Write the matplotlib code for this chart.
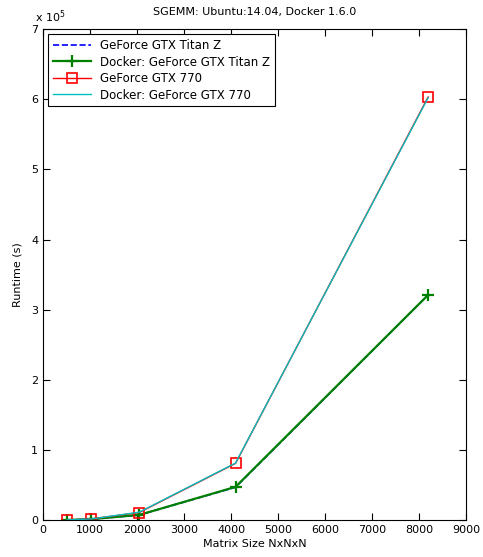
import matplotlib.pyplot as plt
import matplotlib.ticker as mticker

sizes = [512, 1024, 2048, 4096, 8192]
titan_z = [300, 1500, 7500, 47000, 321000]
docker_titan_z = [300, 1500, 7600, 47500, 321000]
gtx_770 = [500, 1800, 11000, 81000, 603000]
docker_gtx_770 = [500, 1800, 11500, 81500, 602000]

fig = plt.figure(figsize=(4.83, 5.57), dpi=100)
ax = fig.add_axes([0.089, 0.066, 0.876, 0.882])

ax.plot(sizes, titan_z, color="blue", linestyle="--", linewidth=1.2, label="GeForce GTX Titan Z")
ax.plot(sizes, docker_titan_z, color="green", linestyle="-", linewidth=1.6, marker="+",
        markersize=8, markeredgewidth=1.6, label="Docker: GeForce GTX Titan Z")
ax.plot(sizes, gtx_770, color="red", linestyle="-", linewidth=1.0, marker="s",
        markersize=7, markerfacecolor="none", markeredgewidth=1.2, label="GeForce GTX 770")
ax.plot(sizes, docker_gtx_770, color="#00bfbf", linestyle="-", linewidth=1.0, label="Docker: GeForce GTX 770")

ax.set_xlim(0, 9000)
ax.set_ylim(0, 7e5)
ax.set_xticks(range(0, 9001, 1000))
ax.set_yticks([i * 1e5 for i in range(8)])
ax.yaxis.set_major_formatter(mticker.FuncFormatter(lambda v, p: f"{v / 1e5:g}"))
ax.tick_params(direction="in", top=True, right=True, labelsize=8, length=5)
ax.text(-0.02, 1.008, r"x 10$^5$", transform=ax.transAxes, fontsize=8, ha="left", va="bottom")

ax.set_xlabel("Matrix Size NxNxN", fontsize=8, labelpad=3)
ax.set_ylabel("Runtime (s)", fontsize=8, labelpad=6)
ax.set_title("SGEMM: Ubuntu:14.04, Docker 1.6.0", fontsize=8, pad=10)

leg = ax.legend(loc="upper left", fontsize=8.5, fancybox=False, framealpha=1,
                edgecolor="black", borderaxespad=0.45, handlelength=3.2, labelspacing=0.3)
leg.get_frame().set_linewidth(0.8)

fig.savefig("out.png", dpi=100)
